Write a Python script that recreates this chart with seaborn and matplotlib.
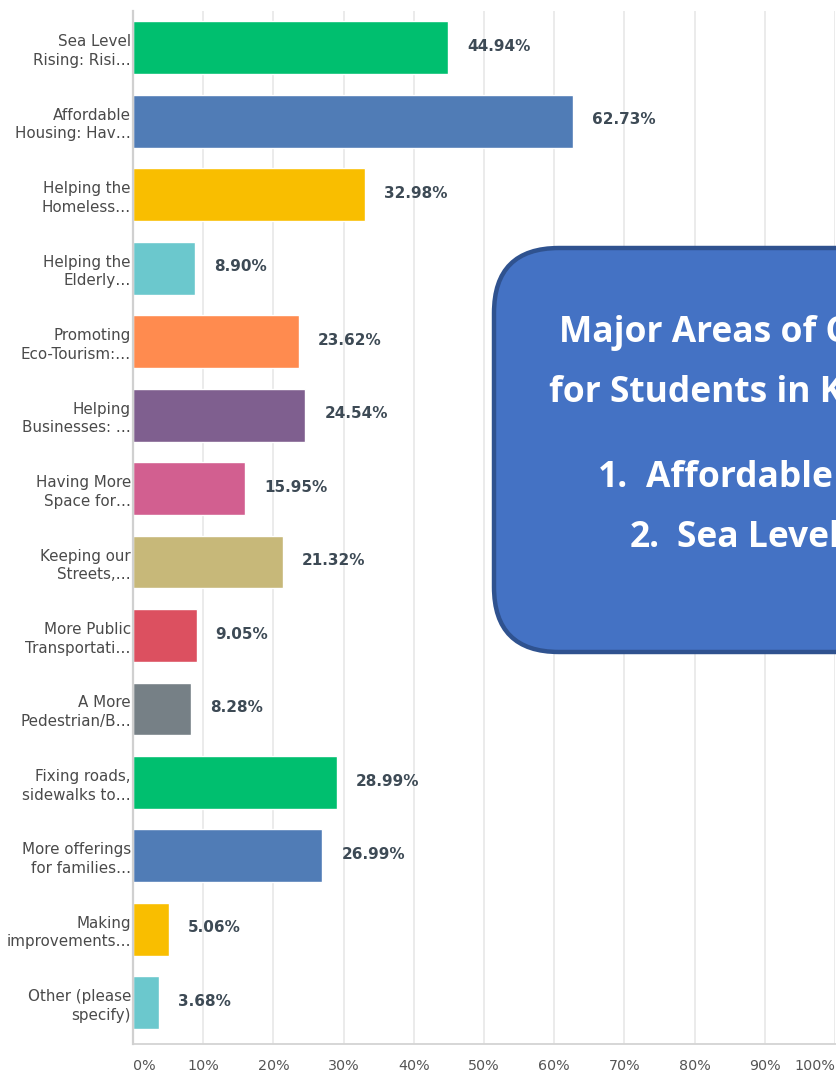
import matplotlib
matplotlib.use("Agg")
import matplotlib.pyplot as plt
import seaborn as sns
import pandas as pd
from matplotlib.patches import FancyBboxPatch

categories = [
    "Sea Level\nRising: Risi…",
    "Affordable\nHousing: Hav…",
    "Helping the\nHomeless…",
    "Helping the\nElderly…",
    "Promoting\nEco-Tourism:…",
    "Helping\nBusinesses: …",
    "Having More\nSpace for…",
    "Keeping our\nStreets,…",
    "More Public\nTransportati…",
    "A More\nPedestrian/B…",
    "Fixing roads,\nsidewalks to…",
    "More offerings\nfor families…",
    "Making\nimprovements…",
    "Other (please\nspecify)",
]
values = [44.94, 62.73, 32.98, 8.90, 23.62, 24.54, 15.95, 21.32, 9.05, 8.28,
          28.99, 26.99, 5.06, 3.68]
colors = ["#00BF6F", "#507CB6", "#F9BE00", "#6BC8CD", "#FF8B4F", "#7F5F8F",
          "#D25F90", "#C7B879", "#DC5060", "#768086", "#00BF6F", "#507CB6",
          "#F9BE00", "#6BC8CD"]
xticks = [0, 10, 20, 30, 40, 50, 60, 70, 80, 90, 100]
xtick_labels = [f"{t}%" for t in xticks]

box_title = ["Major Areas of Concern", "for Students in Key West"]
box_items = [("1.", "Affordable Housing"), ("2.", "Sea Level Rising")]

df = pd.DataFrame({"category": categories, "value": values})

sns.set_theme(style="white")
plt.rcParams["font.family"] = ["DejaVu Sans"]

W, H = 837, 1074
fig = plt.figure(figsize=(W / 100, H / 100), dpi=100)
fig.patch.set_facecolor("white")
ax = fig.add_axes([133 / W, 1 - 1044 / H, (835 - 133) / W, (1044 - 11) / H])

sns.barplot(data=df, x="value", y="category", hue="category", palette=colors,
            order=categories, hue_order=categories, legend=False, width=0.72,
            orient="h", saturation=1, edgecolor="white", linewidth=1, ax=ax, zorder=3)

ax.set_xlim(0, 100)
ax.set_ylim(13.56, -0.5)
ax.set_xticks(xticks)
ax.set_xticklabels(xtick_labels)
ax.set_xlabel("")
ax.set_ylabel("")
ax.grid(axis="x", color="#e8e8e8", linewidth=1.2, zorder=0)
ax.grid(axis="y", visible=False)
for s in ["top", "right"]:
    ax.spines[s].set_visible(False)
ax.spines["left"].set_color("#d0d0d0")
ax.spines["left"].set_linewidth(1.6)
ax.spines["left"].set_zorder(4)
ax.spines["bottom"].set_color("#d6d6d6")
ax.spines["bottom"].set_linewidth(1.4)
ax.tick_params(axis="x", length=0, pad=10.5, labelsize=10.3, labelcolor="#555555")
ax.tick_params(axis="y", length=0, pad=1.5, labelsize=10.9, labelcolor="#4a4a4a")
for lab in ax.get_yticklabels():
    lab.set_linespacing(1.3)
    lab.set_zorder(5)
xl = ax.get_xticklabels()
xl[0].set_ha("left")
xl[-1].set_ha("right")

for i, v in enumerate(values):
    ax.annotate(f"{v:.2f}%", xy=(v, i), xytext=(19 * 0.72, 1), textcoords="offset points",
                ha="left", va="center", fontsize=11, fontweight="bold", color="#3d4a55")

# overlay text box in pixel coordinates
ov = fig.add_axes([0, 0, 1, 1])
ov.set_xlim(0, W)
ov.set_ylim(H, 0)
ov.axis("off")
ov.patch.set_alpha(0)
box = FancyBboxPatch((494, 248), 800, 404,
                     boxstyle="round,pad=0,rounding_size=65",
                     facecolor="#4472C4", edgecolor="#2F528F", linewidth=3.2)
ov.add_patch(box)
tkw = dict(color="white", fontsize=25.5, fontweight="bold", family=["Open Sans", "DejaVu Sans"],
           va="center", ha="left")
ov.text(559, 333, box_title[0], **tkw)
ov.text(549, 393, box_title[1], **tkw)
ov.text(598, 478, box_items[0][0], **tkw)
ov.text(646, 478, box_items[0][1], **tkw)
ov.text(630, 538, box_items[1][0], **tkw)
ov.text(677, 538, box_items[1][1], **tkw)

fig.savefig("out.png", dpi=100)
